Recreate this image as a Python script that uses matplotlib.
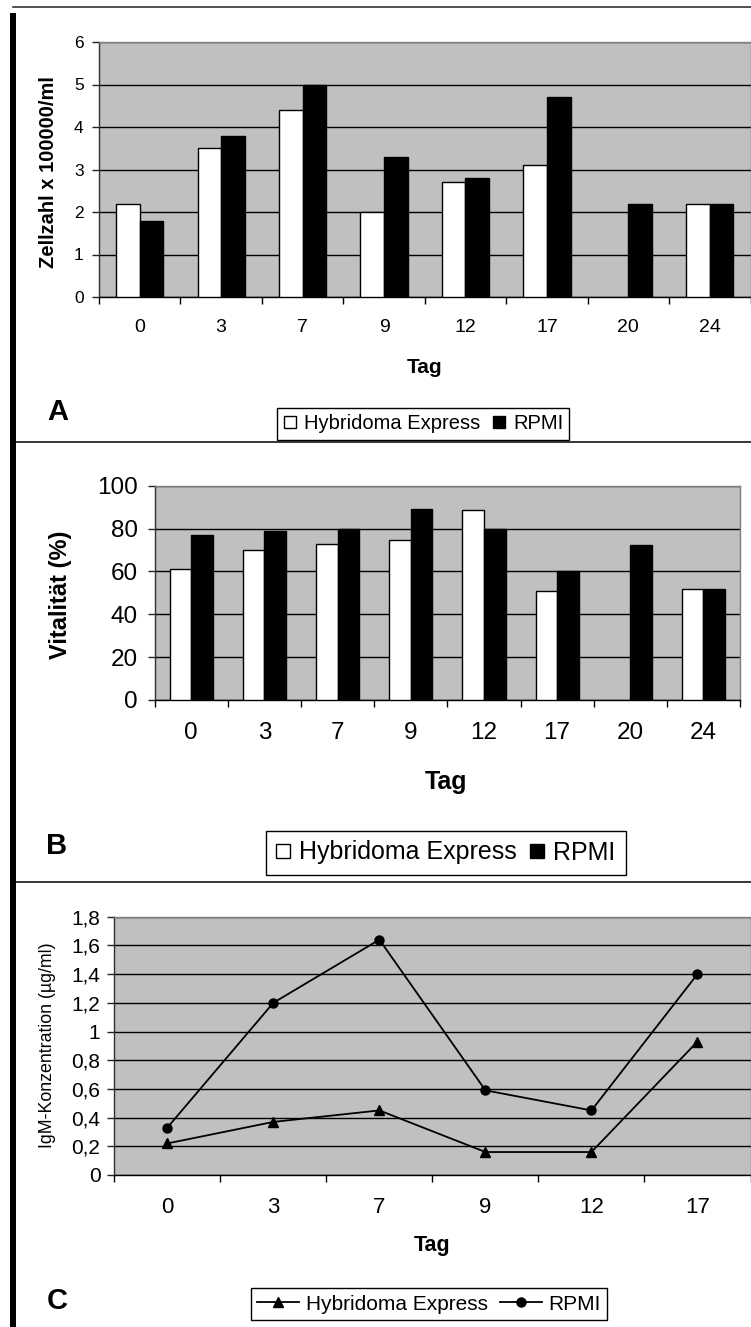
import matplotlib
matplotlib.use('Agg')
import matplotlib.pyplot as plt
import numpy as np
from matplotlib.lines import Line2D
from matplotlib.patches import Rectangle

# ---------------- data ----------------
days_ab = ['0', '3', '7', '9', '12', '17', '20', '24']
zell_hybridoma = [2.2, 3.5, 4.4, 2.0, 2.7, 3.1, np.nan, 2.2]
zell_rpmi = [1.8, 3.8, 5.0, 3.3, 2.8, 4.7, 2.2, 2.2]

vital_hybridoma = [61, 70, 73, 74.5, 88.5, 51, np.nan, 52]
vital_rpmi = [77, 79, 80, 89, 80, 60, 72.5, 52]

days_c = ['0', '3', '7', '9', '12', '17']
igm_hybridoma = [0.22, 0.37, 0.45, 0.16, 0.16, 0.93]
igm_rpmi = [0.33, 1.2, 1.64, 0.59, 0.45, 1.4]

yticks_a = [0, 1, 2, 3, 4, 5, 6]
ytl_a = ['0', '1', '2', '3', '4', '5', '6']
yticks_b = [0, 20, 40, 60, 80, 100]
ytl_b = ['0', '20', '40', '60', '80', '100']
yticks_c = [0, 0.2, 0.4, 0.6, 0.8, 1.0, 1.2, 1.4, 1.6, 1.8]
ytl_c = ['0', '0,2', '0,4', '0,6', '0,8', '1', '1,2', '1,4', '1,6', '1,8']

label_h = 'Hybridoma Express'
label_r = 'RPMI'

# ---------------- figure ----------------
plt.rcParams['font.family'] = ['Liberation Sans', 'DejaVu Sans']
W, H = 751, 1327
fig = plt.figure(figsize=(W / 100, H / 100), dpi=100)


def rect(l, t, r, b):
    return [l / W, 1 - b / H, (r - l) / W, (b - t) / H]


def fx(x):
    return x / W


def fy(y):
    return 1 - y / H


# outer frame
fig.add_artist(Rectangle((fx(10), 0), fx(15.5) - fx(10), fy(13), transform=fig.transFigure,
                         facecolor='black', edgecolor='none'))
fig.add_artist(Line2D([fx(13), 1], [fy(7), fy(7)], transform=fig.transFigure, color='#333333', lw=1.2))
for ysep in (442, 882):
    fig.add_artist(Line2D([fx(15), 1], [fy(ysep), fy(ysep)], transform=fig.transFigure, color='black', lw=1.1))


def style(ax, ncat, yticks, ylabels, xlabels, ytick_fs, xtick_fs, ypad, xpad):
    ax.set_facecolor('#C0C0C0')
    ax.set_xlim(-0.5, ncat - 0.5)
    ax.set_ylim(yticks[0], yticks[-1])
    ax.set_yticks(yticks)
    ax.set_yticklabels(ylabels)
    ax.set_xticks(range(ncat))
    ax.set_xticklabels(xlabels)
    ax.set_xticks(np.arange(-0.5, ncat, 1.0), minor=True)
    ax.tick_params(axis='x', which='major', length=0, pad=xpad, labelsize=xtick_fs)
    ax.tick_params(axis='x', which='minor', length=5, width=1, direction='out', color='black')
    ax.tick_params(axis='y', which='major', length=5, width=1, direction='out', pad=ypad,
                   labelsize=ytick_fs, color='#202020')
    ax.yaxis.grid(True, color='black', linewidth=1)
    ax.set_axisbelow(True)
    for s in ('top', 'right'):
        ax.spines[s].set_color('#808080')
        ax.spines[s].set_linewidth(1)
    ax.spines['left'].set_color('#303030')
    ax.spines['left'].set_linewidth(1)
    ax.spines['bottom'].set_color('black')
    ax.spines['bottom'].set_linewidth(1)


def bars(ax, hyb, rpmi, w):
    x = np.arange(len(hyb))
    hyb = np.array(hyb, dtype=float)
    rpmi = np.array(rpmi, dtype=float)
    mh = ~np.isnan(hyb)
    mr = ~np.isnan(rpmi)
    ax.bar(x[mh] - w / 2, hyb[mh], w, color='white', edgecolor='black', linewidth=1, zorder=3)
    ax.bar(x[mr] + w / 2, rpmi[mr], w, color='black', edgecolor='black', linewidth=1, zorder=3)


def sq_handles(ms):
    return [Line2D([], [], marker='s', ls='none', markersize=ms, markerfacecolor='white',
                   markeredgecolor='black', markeredgewidth=1),
            Line2D([], [], marker='s', ls='none', markersize=ms, markerfacecolor='black',
                   markeredgecolor='black', markeredgewidth=1)]


def legend(handles, cx, cy, fs, hl, htp, cs, bp):
    leg = fig.legend(handles, [label_h, label_r], loc='center', bbox_to_anchor=(fx(cx), fy(cy)),
                     ncol=2, frameon=True, fancybox=False, framealpha=1, edgecolor='black',
                     fontsize=fs, handlelength=hl, handletextpad=htp, columnspacing=cs,
                     borderpad=bp, borderaxespad=0)
    leg.get_frame().set_linewidth(1)
    return leg


# ---------------- Panel A ----------------
axA = fig.add_axes(rect(99, 42, 750.5, 297))
style(axA, 8, yticks_a, ytl_a, days_ab, 12.5, 14, 6, 16)
bars(axA, zell_hybridoma, zell_rpmi, 0.29)
fig.text(fx(48.5), fy(172.5), 'Zellzahl x 100000/ml', rotation=90, ha='center', va='center',
         fontsize=14.5, fontweight='bold')
fig.text(fx(425), fy(367), 'Tag', ha='center', va='center', fontsize=15, fontweight='bold')
fig.text(fx(58), fy(411.5), 'A', ha='center', va='center', fontsize=21, fontweight='bold')
legend(sq_handles(8.5), 423, 424, 14.5, 0.7, 0.35, 0.6, 0.3)

# ---------------- Panel B ----------------
axB = fig.add_axes(rect(154.7, 485.7, 740, 700))
style(axB, 8, yticks_b, ytl_b, days_ab, 17.5, 17.5, 7, 16)
bars(axB, vital_hybridoma, vital_rpmi, 0.295)
fig.text(fx(60), fy(595), 'Vitalität (%)', rotation=90, ha='center', va='center',
         fontsize=17, fontweight='bold')
fig.text(fx(446), fy(782), 'Tag', ha='center', va='center', fontsize=18, fontweight='bold')
fig.text(fx(57), fy(846), 'B', ha='center', va='center', fontsize=21, fontweight='bold')
legend(sq_handles(10), 445.5, 852.5, 18, 0.6, 0.35, 0.5, 0.4)

# ---------------- Panel C ----------------
axC = fig.add_axes(rect(114.3, 916.7, 750.5, 1175))
style(axC, 6, yticks_c, ytl_c, days_c, 15, 16, 5, 16)
xc = np.arange(len(days_c))
axC.plot(xc, igm_hybridoma, color='black', lw=1.3, marker='^', markersize=7.5, zorder=4)
axC.plot(xc, igm_rpmi, color='black', lw=1.3, marker='o', markersize=6.5, zorder=4)
fig.text(fx(47), fy(1045), 'IgM-Konzentration (µg/ml)', rotation=90, ha='center', va='center',
         fontsize=12.8)
fig.text(fx(432), fy(1246), 'Tag', ha='center', va='center', fontsize=15.5, fontweight='bold')
fig.text(fx(57.5), fy(1301), 'C', ha='center', va='center', fontsize=21, fontweight='bold')
line_handles = [Line2D([], [], color='black', lw=1.3, marker='^', markersize=7.5),
                Line2D([], [], color='black', lw=1.3, marker='o', markersize=6.5)]
legend(line_handles, 429, 1304, 15, 2.0, 0.33, 0.6, 0.3)

fig.savefig('out.png', dpi=100)
